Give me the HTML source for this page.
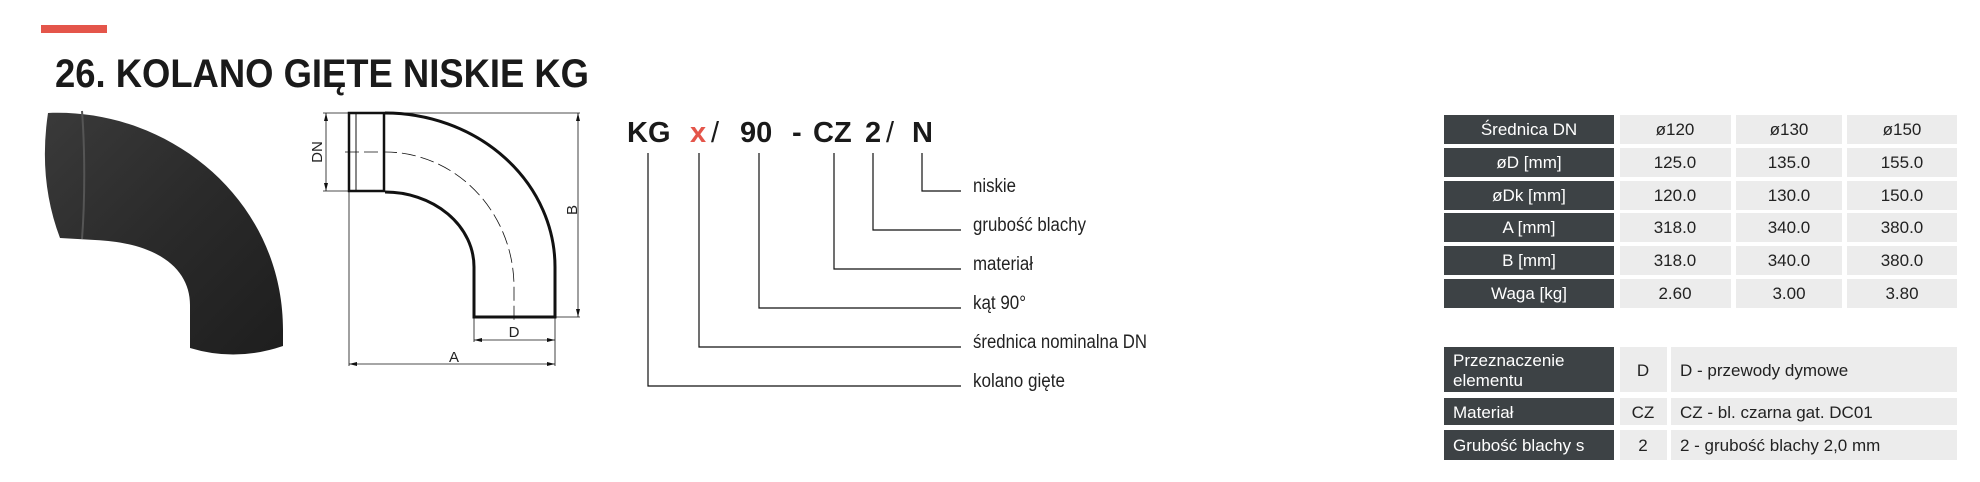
<!DOCTYPE html>
<html><head><meta charset="utf-8"><style>
html,body{margin:0;padding:0;background:#fff;}
svg{display:block;font-family:"Liberation Sans",sans-serif;}
</style></head><body>
<svg width="1980" height="482" viewBox="0 0 1980 482" xmlns="http://www.w3.org/2000/svg">
<defs>
<linearGradient id="g1" x1="0" y1="0" x2="1" y2="1">
<stop offset="0" stop-color="#3a3a3a"/><stop offset="0.5" stop-color="#2a2a2a"/><stop offset="1" stop-color="#1e1e1e"/>
</linearGradient>
</defs>
<rect x="41" y="25" width="66" height="8" fill="#e4554a"/>
<text x="55" y="87" font-size="40" font-weight="bold" fill="#1a1a1a" textLength="534" lengthAdjust="spacingAndGlyphs">26. KOLANO GIĘTE NISKIE KG</text>

<!-- photo elbow -->
<path d="M48,113 C170,108 283,200 283,330 L283,346 Q236,362 190,348 L190,305 C190,270 160,243 95,240 L60,238 Q38,180 48,113 Z" fill="url(#g1)"/>
<path d="M82,111 C85,150 85,200 82,239" stroke="#555" stroke-width="2" fill="none"/>

<!-- technical drawing -->
<g fill="none" stroke="#111">
<rect x="349" y="113" width="35" height="78" stroke-width="2.5"/>
<line x1="356" y1="113" x2="356" y2="191" stroke-width="1"/>
<path d="M385,113 A170,154 0 0 1 555,267 L555,317 L474,317 L474,267 A89,75 0 0 0 385,192" stroke-width="3"/>
<path d="M345,152 L385,152 A129,135 0 0 1 514,287 L514,320" stroke-width="0.8" stroke-dasharray="14,5"/>
<g stroke-width="0.8">
<line x1="326" y1="113" x2="326" y2="191"/>
<line x1="323" y1="113" x2="349" y2="113"/>
<line x1="323" y1="191" x2="349" y2="191"/>
<line x1="385" y1="113" x2="580" y2="113"/>
<line x1="555" y1="317" x2="580" y2="317"/>
<line x1="578" y1="113" x2="578" y2="317"/>
<line x1="349" y1="191" x2="349" y2="366"/>
<line x1="555" y1="317" x2="555" y2="366"/>
<line x1="474" y1="317" x2="474" y2="342"/>
<line x1="474" y1="340" x2="555" y2="340"/>
<line x1="349" y1="364" x2="555" y2="364"/>
</g>
</g>
<g fill="#111">
<path d="M326,113 l-2,8 h4z M326,191 l-2,-8 h4z M578,113 l-2,8 h4z M578,317 l-2,-8 h4z M474,340 l8,-2 v4z M555,340 l-8,-2 v4z M349,364 l8,-2 v4z M555,364 l-8,-2 v4z"/>
</g>
<g font-size="15" fill="#222">
<text x="0" y="0" transform="translate(322,152) rotate(-90)" text-anchor="middle">DN</text>
<text x="0" y="0" transform="translate(577,210) rotate(-90)" text-anchor="middle">B</text>
<text x="514" y="337" text-anchor="middle">D</text>
<text x="454" y="362" text-anchor="middle">A</text>
</g>

<!-- code -->
<g font-size="29" font-weight="bold" fill="#1a1a1a">
<text x="627" y="142">KG</text>
<text x="690" y="142" fill="#e4554a">x</text>
<text x="711" y="142" font-weight="normal">/</text>
<text x="740" y="142">90</text>
<text x="792" y="142">-</text>
<text x="813" y="142">CZ</text>
<text x="865" y="142">2</text>
<text x="886" y="142" font-weight="normal">/</text>
<text x="912" y="142">N</text>
</g>
<g fill="none" stroke="#111" stroke-width="1.2">
<path d="M922,153 V191 H961"/>
<path d="M873,153 V230 H961"/>
<path d="M834,153 V269 H961"/>
<path d="M759,153 V308 H961"/>
<path d="M699,153 V347 H961"/>
<path d="M648,153 V386 H961"/>
</g>
<g font-size="19" fill="#222">
<text x="973" y="192" textLength="43" lengthAdjust="spacingAndGlyphs">niskie</text>
<text x="973" y="231" textLength="113" lengthAdjust="spacingAndGlyphs">grubość blachy</text>
<text x="973" y="270" textLength="60" lengthAdjust="spacingAndGlyphs">materiał</text>
<text x="973" y="309" textLength="53" lengthAdjust="spacingAndGlyphs">kąt 90°</text>
<text x="973" y="348" textLength="174" lengthAdjust="spacingAndGlyphs">średnica nominalna DN</text>
<text x="973" y="387" textLength="92" lengthAdjust="spacingAndGlyphs">kolano gięte</text>
</g>

<!-- table 1 -->
<g font-size="17">
<g fill="#3d4245">
<rect x="1444" y="115" width="170" height="29"/><rect x="1444" y="148" width="170" height="29"/>
<rect x="1444" y="181" width="170" height="29"/><rect x="1444" y="213" width="170" height="29"/>
<rect x="1444" y="246" width="170" height="29"/><rect x="1444" y="279" width="170" height="29"/>
</g>
<g fill="#ececec">
<rect x="1620" y="115" width="111" height="29"/><rect x="1736" y="115" width="106" height="29"/><rect x="1847" y="115" width="110" height="29"/>
<rect x="1620" y="148" width="111" height="29"/><rect x="1736" y="148" width="106" height="29"/><rect x="1847" y="148" width="110" height="29"/>
<rect x="1620" y="181" width="111" height="29"/><rect x="1736" y="181" width="106" height="29"/><rect x="1847" y="181" width="110" height="29"/>
<rect x="1620" y="213" width="111" height="29"/><rect x="1736" y="213" width="106" height="29"/><rect x="1847" y="213" width="110" height="29"/>
<rect x="1620" y="246" width="111" height="29"/><rect x="1736" y="246" width="106" height="29"/><rect x="1847" y="246" width="110" height="29"/>
<rect x="1620" y="279" width="111" height="29"/><rect x="1736" y="279" width="106" height="29"/><rect x="1847" y="279" width="110" height="29"/>
</g>
<g fill="#fff" text-anchor="middle">
<text x="1529" y="135">Średnica DN</text><text x="1529" y="168">øD [mm]</text>
<text x="1529" y="201">øDk [mm]</text><text x="1529" y="233">A [mm]</text>
<text x="1529" y="266">B [mm]</text><text x="1529" y="299">Waga [kg]</text>
</g>
<g fill="#222" text-anchor="middle">
<text x="1675" y="135">ø120</text><text x="1789" y="135">ø130</text><text x="1902" y="135">ø150</text>
<text x="1675" y="168">125.0</text><text x="1789" y="168">135.0</text><text x="1902" y="168">155.0</text>
<text x="1675" y="201">120.0</text><text x="1789" y="201">130.0</text><text x="1902" y="201">150.0</text>
<text x="1675" y="233">318.0</text><text x="1789" y="233">340.0</text><text x="1902" y="233">380.0</text>
<text x="1675" y="266">318.0</text><text x="1789" y="266">340.0</text><text x="1902" y="266">380.0</text>
<text x="1675" y="299">2.60</text><text x="1789" y="299">3.00</text><text x="1902" y="299">3.80</text>
</g>

<!-- table 2 -->
<g fill="#3d4245">
<rect x="1444" y="347" width="170" height="45"/><rect x="1444" y="398" width="170" height="27"/><rect x="1444" y="430" width="170" height="30"/>
</g>
<g fill="#ececec">
<rect x="1620" y="347" width="47" height="45"/><rect x="1671" y="347" width="286" height="45"/>
<rect x="1620" y="398" width="47" height="27"/><rect x="1671" y="398" width="286" height="27"/>
<rect x="1620" y="430" width="47" height="30"/><rect x="1671" y="430" width="286" height="30"/>
</g>
<g fill="#fff">
<text x="1453" y="366">Przeznaczenie</text><text x="1453" y="386">elementu</text>
<text x="1453" y="418">Materiał</text><text x="1453" y="451">Grubość blachy s</text>
</g>
<g fill="#222">
<text x="1643" y="376" text-anchor="middle">D</text>
<text x="1643" y="418" text-anchor="middle">CZ</text>
<text x="1643" y="451" text-anchor="middle">2</text>
<text x="1680" y="376">D - przewody dymowe</text>
<text x="1680" y="418">CZ - bl. czarna gat. DC01</text>
<text x="1680" y="451">2 - grubość blachy 2,0 mm</text>
</g>
</g>
</svg>
</body></html>
